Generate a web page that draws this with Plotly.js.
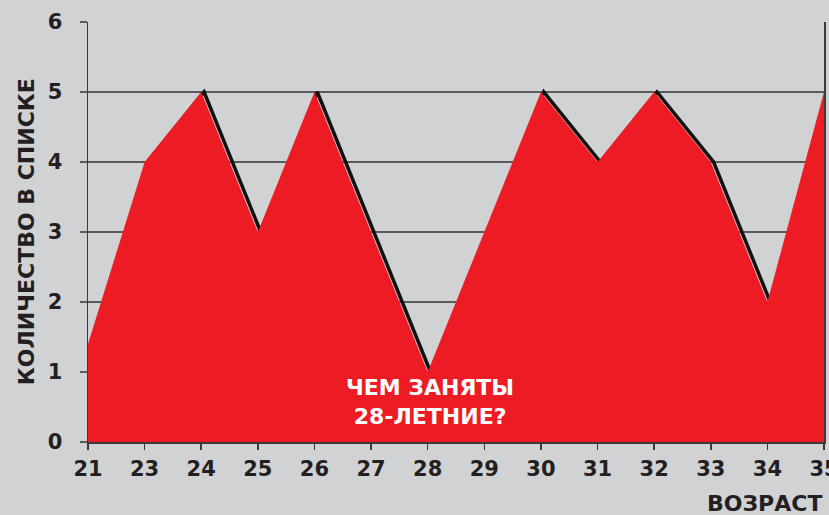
<!DOCTYPE html>
<html>
<head>
<meta charset="utf-8">
<script src="https://cdn.plot.ly/plotly-3.0.1.min.js"></script>
<style>html,body{margin:0;padding:0;background:#d1d2d4;}#chart{width:829px;height:515px;}</style>
</head>
<body>
<div id="chart"></div>
<script>
const ages = ['21','23','24','25','26','27','28','29','30','31','32','33','34','35'];
const counts = [1.4, 4, 5, 3, 5, 3, 1, 3, 5, 4, 5, 4, 2, 5];
const yTicks = [0, 1, 2, 3, 4, 5, 6];
const yTitle = 'КОЛИЧЕСТВО В СПИСКЕ';
const xTitle = 'ВОЗРАСТ';
const noteText = 'ЧЕМ ЗАНЯТЫ<br>28-ЛЕТНИЕ?';

const dark = '#231f20';
const fam = 'DejaVu Sans, Liberation Sans, Arial, sans-serif';

const shadow = {
  x: ages, y: counts, type: 'scatter', mode: 'lines',
  xaxis: 'x', yaxis: 'y',
  line: {color: '#111', width: 3.5},
  hoverinfo: 'skip', showlegend: false
};
const area = {
  x: ages, y: counts, type: 'scatter', mode: 'lines',
  xaxis: 'x2', yaxis: 'y',
  fill: 'tozeroy', fillcolor: '#ed1c24',
  line: {color: '#ed1c24', width: 0},
  showlegend: false
};

const layout = {
  width: 829, height: 515,
  paper_bgcolor: '#d1d2d4', plot_bgcolor: '#d1d2d4',
  margin: {l: 88, r: 5, t: 22, b: 73},
  showlegend: false,
  xaxis: {
    type: 'category', range: [-0.05, 12.95], visible: false, fixedrange: true
  },
  xaxis2: {
    type: 'category', overlaying: 'x', anchor: 'y', side: 'bottom',
    range: [0, 13], showgrid: false, zeroline: false,
    showline: true, linecolor: '#3a3a3c', linewidth: 2,
    ticks: 'outside', ticklen: 6, tickwidth: 1.5, tickcolor: '#3a3a3c',
    tickfont: {family: fam, size: 21, color: dark, weight: 'bold'}, ticklabelstandoff: 1
  },
  yaxis: {
    range: [0, 6], tickvals: yTicks, ticktext: yTicks.map(String),
    showgrid: true, gridcolor: '#5a5b5d', gridwidth: 2,
    zeroline: false,
    showline: true, mirror: true, linecolor: '#3a3a3c', linewidth: 1.5,
    ticks: 'outside', ticklen: 7, tickwidth: 2, tickcolor: '#5a5b5d',
    tickfont: {family: fam, size: 21, color: dark, weight: 'bold'}, ticklabelstandoff: 13
  },
  annotations: [
    {text: yTitle, xref: 'paper', yref: 'paper', x: -0.084, y: 0.5, xanchor: 'center', yanchor: 'middle',
     textangle: -90, showarrow: false, font: {family: fam, size: 22, color: dark, weight: 'bold'}},
    {text: xTitle, xref: 'paper', yref: 'paper', x: 1.0, y: -0.147, xanchor: 'right', yanchor: 'middle',
     showarrow: false, font: {family: fam, size: 22, color: dark, weight: 'bold'}},
    {text: noteText, xref: 'paper', yref: 'paper', x: 0.4647, y: 0.096, xanchor: 'center', yanchor: 'middle',
     showarrow: false, align: 'center', font: {family: fam, size: 22, color: '#ffffff', weight: 'bold'}}
  ]
};

Plotly.newPlot('chart', [shadow, area], layout, {displayModeBar: false, staticPlot: true});
</script>
</body>
</html>
